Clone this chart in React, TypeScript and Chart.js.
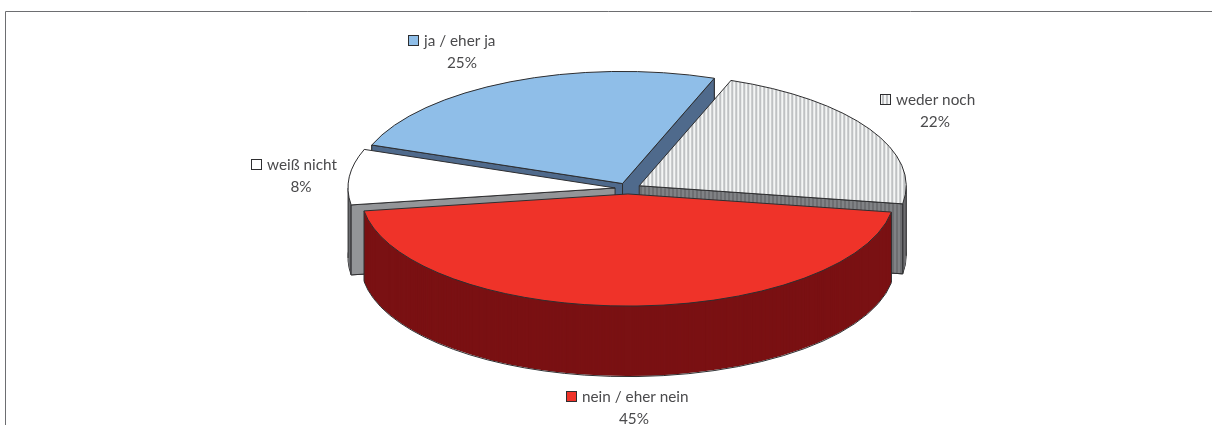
import { useEffect, useRef } from "react";
import { Chart, registerables } from "chart.js";

Chart.register(...registerables);

const categories = ["ja / eher ja", "weder noch", "nein / eher nein", "weiß nicht"];
const shares = [25, 22, 45, 8];
const topColors = ["#8FBEE8", "hatch", "#EF3329", "#FFFFFF"];
const wallColors = ["#4F6A8C", "wallHatch", "#7A1113", "#939598"];
const rimColors = ["#4F6A8C", "#6D6E71", "#7A1113", "#6D6E71"];
// Painter's order: back slices first, the front slice last.
const paintOrder = [0, 1, 3, 2];
// Left edge of each key square and baseline of its label, in page pixels.
const labelAnchors = [
  { keyX: 408, y: 46, valueX: 462 },
  { keyX: 880, y: 105, valueX: 935 },
  { keyX: 566, y: 402, valueX: 634 },
  { keyX: 251, y: 170, valueX: 301 },
];

const CENTER_X = 628;
const CENTER_Y = 188.5;
const TILT = 0.42;
const DEPTH = 70;
const EXPLODE = 13;
const OUTLINE = "#2E2E30";
const TEXT = "#4A4A4C";
const FONT = '15.3px Lato, "Open Sans", sans-serif';

function stripes(a: string, b: string) {
  const c = document.createElement("canvas");
  c.width = 4;
  c.height = 4;
  const g = c.getContext("2d")!;
  g.fillStyle = a;
  g.fillRect(0, 0, 4, 4);
  g.fillStyle = b;
  g.fillRect(2, 0, 2, 4);
  return g.createPattern(c, "repeat")!;
}

const pie3d = {
  id: "pie3d",
  beforeDatasetsDraw(chart: any) {
    const ctx: CanvasRenderingContext2D = chart.ctx;
    const arcs = chart.getDatasetMeta(0).data;
    const hatch = stripes("#F4F5F5", "#BFC1C3");
    const wallHatch = stripes("#6D6E71", "#808285");
    const paint = (name: string) => (name === "hatch" ? hatch : name === "wallHatch" ? wallHatch : name);

    const apex = (el: any) => {
      const mid = (el.startAngle + el.endAngle) / 2;
      return { x: el.x + Math.cos(mid) * EXPLODE, y: el.y + Math.sin(mid) * EXPLODE };
    };

    // Maps the chart's flat pie onto a tilted disc lowered by `drop` pixels.
    const tilted = (el: any, drop: number) => {
      ctx.translate(CENTER_X - el.x, CENTER_Y + drop);
      ctx.scale(1, TILT);
      ctx.translate(0, -el.y);
    };

    const toPage = (el: any, x: number, y: number) => ({
      x: x - el.x + CENTER_X,
      y: (y - el.y) * TILT + CENTER_Y,
    });

    const rimPoint = (el: any, angle: number) => {
      const a = apex(el);
      return toPage(el, a.x + Math.cos(angle) * el.outerRadius, a.y + Math.sin(angle) * el.outerRadius);
    };

    const outline = (el: any, drop: number, width = 1) => {
      const a = apex(el);
      ctx.save();
      tilted(el, drop);
      ctx.beginPath();
      ctx.moveTo(a.x, a.y);
      ctx.arc(a.x, a.y, el.outerRadius, el.startAngle, el.endAngle);
      ctx.closePath();
      ctx.restore();
      ctx.lineWidth = width;
      ctx.strokeStyle = OUTLINE;
      ctx.stroke();
    };

    const fill = (el: any, drop: number, color: any) => {
      const a = apex(el);
      const own = el.options;
      el.options = { ...own, backgroundColor: color, borderWidth: 0, offset: 0 };
      ctx.save();
      tilted(el, drop);
      ctx.translate(a.x - el.x, a.y - el.y);
      el.draw(ctx);
      ctx.restore();
      el.options = own;
    };

    // Flat cut faces of a slice, drawn only where the slice's body lies behind them.
    const drawCutFaces = (el: any, color: any) => {
      const a = apex(el);
      const top = toPage(el, a.x, a.y);
      const body = rimPoint(el, (el.startAngle + el.endAngle) / 2);
      for (const c of [rimPoint(el, el.startAngle), rimPoint(el, el.endAngle)]) {
        const lineY = top.y + ((c.y - top.y) / (c.x - top.x)) * (body.x - top.x);
        if (body.y > lineY) continue;
        ctx.beginPath();
        ctx.moveTo(top.x, top.y);
        ctx.lineTo(c.x, c.y);
        ctx.lineTo(c.x, c.y + DEPTH);
        ctx.lineTo(top.x, top.y + DEPTH);
        ctx.closePath();
        ctx.fillStyle = color;
        ctx.fill();
        ctx.lineWidth = 1;
        ctx.strokeStyle = OUTLINE;
        ctx.stroke();
      }
    };

    // Vertical edges at the corners and where the rim turns away from the viewer.
    const drawEdges = (el: any) => {
      const angles = [el.startAngle, el.endAngle];
      for (const turn of [-Math.PI, 0, Math.PI]) {
        if (turn > el.startAngle && turn < el.endAngle) angles.push(turn);
      }
      ctx.lineWidth = 1;
      ctx.strokeStyle = OUTLINE;
      for (const angle of angles) {
        const p = rimPoint(el, angle);
        ctx.beginPath();
        ctx.moveTo(p.x, p.y);
        ctx.lineTo(p.x, p.y + DEPTH);
        ctx.stroke();
      }
    };

    for (const i of paintOrder) {
      const el = arcs[i];
      fill(el, DEPTH, rimColors[i]);
      if (i === 2) {
        // The front slice shows only its rim, so its lower radial edges stay hidden.
        for (let drop = DEPTH - 1; drop > 0; drop--) fill(el, drop, rimColors[i]);
      }
      outline(el, DEPTH + (i === 2 ? 0.5 : 0), 1);
      for (let drop = DEPTH - 1; drop > 0; drop--) fill(el, drop, rimColors[i]);
      drawEdges(el);
      drawCutFaces(el, paint(wallColors[i]));
      fill(el, 0, paint(topColors[i]));
      outline(el, 0);
    }

    // Frame around the plot: top and left rules only.
    ctx.strokeStyle = "#6D6E71";
    ctx.lineWidth = 1;
    ctx.beginPath();
    ctx.moveTo(5.5, 425);
    ctx.lineTo(5.5, 11.5);
    ctx.lineTo(1212, 11.5);
    ctx.stroke();

    // Category keys and percentage labels.
    ctx.font = FONT;
    ctx.textBaseline = "alphabetic";
    categories.forEach((name, i) => {
      const a = labelAnchors[i];
      ctx.fillStyle = paint(topColors[i]);
      ctx.fillRect(a.keyX + 0.5, a.y - 10.5, 10, 10);
      ctx.strokeStyle = OUTLINE;
      ctx.strokeRect(a.keyX + 0.5, a.y - 10.5, 10, 10);
      ctx.fillStyle = TEXT;
      ctx.textAlign = "left";
      ctx.fillText(name, a.keyX + 16, a.y);
      ctx.textAlign = "center";
      ctx.fillText(shares[i] + "%", a.valueX, a.y + 22);
    });

    return false;
  },
};

export default function App() {
  const ref = useRef<HTMLCanvasElement>(null);
  useEffect(() => {
    const chart = new Chart(ref.current!, {
      type: "pie",
      data: {
        labels: categories,
        datasets: [{ data: shares, radius: 267, borderWidth: 0 } as any],
      },
      options: {
        responsive: false,
        animation: false,
        rotation: -69.9,
        layout: { padding: 0 },
        plugins: { legend: { display: false }, tooltip: { enabled: false } },
      },
      plugins: [pie3d],
    } as any);
    return () => chart.destroy();
  }, []);
  return (
    <canvas
      ref={ref}
      width={1212}
      height={425}
      style={{ position: "absolute", left: 0, top: 0, width: 1212, height: 425, display: "block" }}
    />
  );
}
